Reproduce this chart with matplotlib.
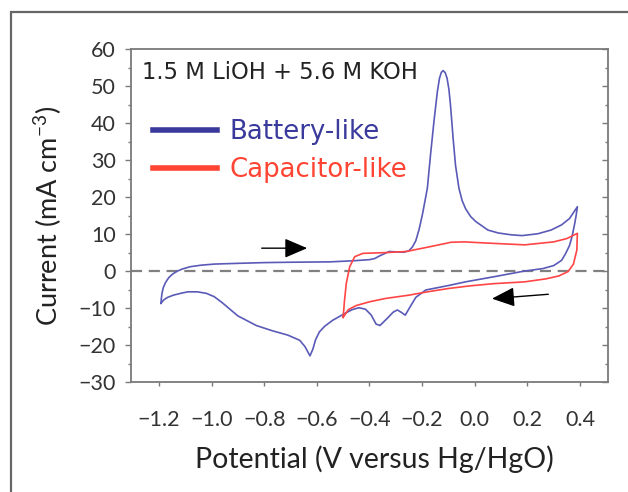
import numpy as np
import matplotlib
matplotlib.use("Agg")
import matplotlib.pyplot as plt
from matplotlib.ticker import MultipleLocator
from matplotlib.lines import Line2D
from matplotlib.patches import Rectangle

plt.rcParams['font.family'] = ['Lato', 'DejaVu Sans']
plt.rcParams['mathtext.fontset'] = 'custom'
plt.rcParams['mathtext.rm'] = 'Lato'
plt.rcParams['mathtext.it'] = 'Lato:italic'

# battery-like CV loop (forward sweep then reverse sweep)
bat_v = [-1.192, -1.191, -1.188, -1.183, -1.175, -1.163, -1.148, -1.13, -1.11, -1.08,
         -1.04, -0.99, -0.90, -0.80, -0.70, -0.55, -0.46, -0.40, -0.38, -0.362,
         -0.325, -0.30, -0.27, -0.25, -0.237, -0.224, -0.212, -0.199, -0.18, -0.168,
         -0.155, -0.142, -0.134, -0.127, -0.12, -0.112, -0.105, -0.098, -0.092, -0.082,
         -0.073, -0.06, -0.048, -0.035, -0.015, 0.004, 0.05, 0.09, 0.14, 0.18,
         0.24, 0.29, 0.33, 0.36, 0.39,
         0.385, 0.38, 0.37, 0.36, 0.345, 0.33, 0.30, 0.26, 0.18, 0.09, -0.035,
         -0.10, -0.186, -0.224, -0.245, -0.264, -0.28, -0.294, -0.31, -0.33, -0.36,
         -0.375, -0.393, -0.415, -0.44, -0.465, -0.49, -0.51, -0.54, -0.57, -0.59,
         -0.605, -0.615, -0.626, -0.645, -0.665, -0.71, -0.77, -0.83, -0.90, -0.93,
         -0.96, -0.99, -1.02, -1.054, -1.09, -1.117, -1.145, -1.167, -1.182, -1.192]
bat_i = [-8.6, -7.5, -5.8, -4.3, -3.0, -1.7, -0.7, 0.1, 0.7, 1.3,
         1.7, 2.0, 2.2, 2.4, 2.5, 2.6, 2.9, 3.2, 3.5, 4.2,
         5.4, 5.3, 5.2, 5.6, 6.6, 8.3, 11.2, 15.3, 22.5, 31.5,
         40.5, 48.6, 52.2, 53.8, 54.3, 53.7, 52.2, 49.2, 44.9, 35.9,
         28.7, 22.5, 19.2, 17.0, 14.8, 13.5, 11.2, 10.4, 9.9, 9.7,
         10.2, 11.2, 12.6, 14.3, 17.5,
         15.0, 13.0, 9.5, 7.0, 4.8, 3.0, 1.6, 0.8, 0.0, -1.2, -2.8,
         -3.8, -5.0, -7.0, -9.5, -11.8, -11.0, -10.4, -11.0, -12.5, -14.6,
         -14.2, -11.8, -10.2, -9.8, -10.3, -11.2, -12.0, -13.2, -14.8, -16.3,
         -18.5, -21.0, -22.8, -20.3, -18.6, -17.2, -16.0, -14.6, -12.0, -10.2,
         -8.4, -6.8, -5.9, -5.5, -5.5, -5.9, -6.4, -7.0, -7.7, -8.6]

# capacitor-like CV loop
cap_v = [-0.50, -0.495, -0.488, -0.475, -0.456, -0.425, -0.34, -0.26, -0.17, -0.09,
         -0.04, 0.07, 0.19, 0.30, 0.35, 0.39,
         0.388, 0.375, 0.355, 0.32, 0.27, 0.19, 0.07, -0.02, -0.10, -0.18,
         -0.25, -0.34, -0.40, -0.45, -0.48, -0.50]
cap_i = [-12.4, -8.0, -3.2, 1.3, 4.0, 4.9, 5.1, 5.4, 6.7, 7.9,
         8.0, 7.6, 7.2, 8.0, 8.9, 10.3,
         5.8, 2.0, 0.0, -1.2, -2.0, -2.8, -3.3, -3.9, -4.6, -5.5,
         -6.4, -7.3, -8.2, -9.2, -10.3, -12.4]

x_ticks = [-1.2, -1.0, -0.8, -0.6, -0.4, -0.2, 0.0, 0.2, 0.4]
y_ticks = [-30, -20, -10, 0, 10, 20, 30, 40, 50, 60]

blue = '#5a5ab8'
red = '#ff4545'

fig = plt.figure(figsize=(6.28, 4.92), dpi=100)
ax = fig.add_axes([0.2086, 0.2226, 0.7594, 0.6768])

# outer frame of the figure panel
fig.patches.append(Rectangle((0.0175, -0.2), 1.2, 1.176, transform=fig.transFigure,
                             fill=False, edgecolor='#666666', linewidth=1.6))

ax.axhline(0, color='#808080', linestyle=(0, (5, 3)), linewidth=1.6, zorder=1)
ax.plot(bat_v, bat_i, color=blue, linewidth=1.2, zorder=3)
ax.plot(cap_v, cap_i, color=red, linewidth=1.2, zorder=3)

arrow = dict(arrowstyle='-|>,head_length=0.7,head_width=0.3',
             color='black', lw=1.0, mutation_scale=20)
ax.annotate('', xy=(-0.626, 6.3), xytext=(-0.82, 6.3), arrowprops=arrow)
ax.annotate('', xy=(0.055, -7.4), xytext=(0.29, -6.1), arrowprops=arrow)

ax.set_xlim(-1.306, 0.506)
ax.set_ylim(-30, 60)
ax.set_xticks(x_ticks)
ax.set_xticklabels(['\u2212%.1f' % abs(v) if v < 0 else '%.1f' % v for v in x_ticks])
ax.set_yticks(y_ticks)
ax.set_yticklabels(['\u2212%d' % abs(v) if v < 0 else '%d' % v for v in y_ticks])
ax.yaxis.set_minor_locator(MultipleLocator(5))

for s in ax.spines.values():
    s.set_color('#7a7a7a')
    s.set_linewidth(1.3)

ax.tick_params(axis='x', direction='out', length=3, width=1, color='#7a7a7a',
               pad=17, labelsize=15.5, labelcolor='#333333')
ax.tick_params(axis='y', which='major', direction='out', length=4, width=1,
               color='#7a7a7a', pad=7, labelsize=15.5, labelcolor='#333333')
ax.tick_params(axis='y', which='minor', direction='out', length=2.5, width=1,
               color='#7a7a7a')

sec = ax.secondary_yaxis('right')
sec.yaxis.set_major_locator(MultipleLocator(10))
sec.yaxis.set_minor_locator(MultipleLocator(5))
sec.tick_params(which='major', direction='in', length=4, width=1, color='#7a7a7a',
                labelright=False)
sec.tick_params(which='minor', direction='in', length=2.5, width=1, color='#7a7a7a')
sec.spines['right'].set_visible(False)

ax.set_xlabel('Potential (V versus Hg/HgO)', fontsize=20.5, color='#222222')
ax.xaxis.set_label_coords(0.51, -0.19)
ax.set_ylabel('Current (mA cm$^{-3}$)', fontsize=19.5, color='#222222')
ax.yaxis.set_label_coords(-0.14, 0.5)

ax.text(0.023, 0.932, '1.5 M LiOH + 5.6 M KOH', transform=ax.transAxes,
        fontsize=16.3, color='#222222', va='center', ha='left',
        family='DejaVu Sans')

handles = [Line2D([], [], color='#3a3a9c', linewidth=4),
           Line2D([], [], color='#ff4433', linewidth=4)]
leg = ax.legend(handles, ['Battery-like', 'Capacitor-like'], loc='upper left',
                bbox_to_anchor=(0.046, 0.792), frameon=False,
                prop={'family': 'DejaVu Sans', 'size': 18.7},
                handlelength=2.46, handletextpad=0.5, labelspacing=0.47,
                borderaxespad=0, borderpad=0)
leg.get_texts()[0].set_color('#3a3a9c')
leg.get_texts()[1].set_color('#ff4433')

fig.savefig('out.png', dpi=100)
